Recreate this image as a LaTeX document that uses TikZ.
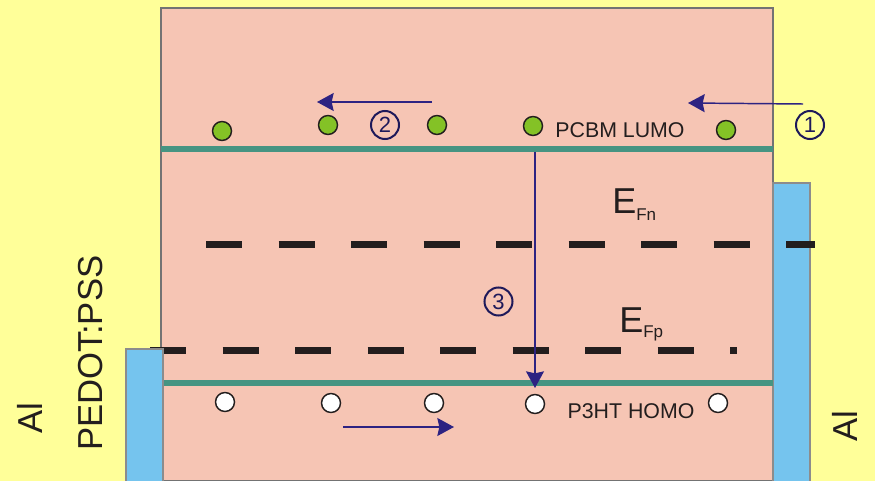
\documentclass[tikz,border=0pt]{standalone}
\usepackage{fontspec}
\setmainfont{Liberation Sans}
\usetikzlibrary{arrows.meta}
\definecolor{bgyellow}{RGB}{255,255,153}
\definecolor{cellpink}{RGB}{246,197,180}
\definecolor{levelteal}{RGB}{70,148,130}
\definecolor{contactblue}{RGB}{117,196,238}
\definecolor{flownavy}{RGB}{45,35,130}
\definecolor{numnavy}{RGB}{30,25,90}
\definecolor{elecgreen}{RGB}{132,194,38}
\definecolor{inkdark}{RGB}{35,30,30}
\begin{document}
\begin{tikzpicture}[x=0.75pt,y=-0.75pt,
  level/.style={levelteal,line width=4.5pt},
  quasi/.style={inkdark,line width=5.25pt,dash pattern=on 27pt off 27.375pt},
  contact/.style={fill=contactblue,draw=black!45,line width=0.8pt},
  elec/.style={circle,fill=elecgreen,draw=inkdark,line width=1.1pt,minimum size=14.25pt,inner sep=0pt},
  hole/.style={circle,fill=white,draw=inkdark,line width=1.1pt,minimum size=14.25pt,inner sep=0pt},
  flow/.style={flownavy,line width=1.1pt,-{Stealth[length=12.5pt,width=13.5pt,inset=1.5pt]}},
  stepnum/.style={circle,draw=numnavy,text=numnavy,line width=1.5pt,minimum size=21pt,inner sep=0pt,font=\fontsize{16.5pt}{16.5pt}\selectfont},
  bandlabel/.style={text=inkdark,inner sep=0pt,anchor=base,font=\fontsize{16pt}{16pt}\selectfont},
  sidelabel/.style={text=inkdark,inner sep=0pt,anchor=base,rotate=90,font=\fontsize{26pt}{26pt}\selectfont}]
\fill[bgyellow] (0,0) rectangle (875,481);
\useasboundingbox (0,0) rectangle (875,481);
% cell
\filldraw[fill=cellpink,draw=black!55,line width=0.8pt] (161,8) rectangle (773,480.5);
% right contact
\filldraw[contact] (773,183) rectangle (810,482);
% band levels
\coordinate (lumoL) at (161,149); \coordinate (lumoR) at (773,149);
\coordinate (homoL) at (161,383); \coordinate (homoR) at (773,383);
\draw[level] (lumoL) -- (lumoR);
\draw[level] (homoL) -- (homoR);
% quasi Fermi levels
\coordinate (efnL) at (206,245); \coordinate (efnR) at (815,245);
\coordinate (efpL) at (150,350); \coordinate (efpR) at (737,350);
\draw[quasi] (efnL) -- (efnR);
\draw[quasi] (efpL) -- (efpR);
% left contact
\filldraw[contact] (126,349) rectangle (163,482);
% electrons
\node[elec] (e1) at (222,131) {};
\node[elec] (e2) at (328,125) {};
\node[elec] (e3) at (437,125) {};
\node[elec] (e4) at (533,126) {};
\node[elec] (e5) at (726,130) {};
% holes
\node[hole] (h1) at (225,402) {};
\node[hole] (h2) at (331,403) {};
\node[hole] (h3) at (434,403) {};
\node[hole] (h4) at (535,404) {};
\node[hole] (h5) at (718,403) {};
% labels
\node[bandlabel] (lumo) at (620,138) {PCBM LUMO};
\node[bandlabel] (homo) at (631,418) {P3HT HOMO};
\node[text=inkdark,inner sep=0pt,anchor=base west] (efn) at (612,214)
  {\fontsize{27pt}{27pt}\selectfont E\raisebox{-5pt}{\fontsize{12.75pt}{12.75pt}\selectfont Fn}};
\node[text=inkdark,inner sep=0pt,anchor=base west] (efp) at (619,332)
  {\fontsize{27pt}{27pt}\selectfont E\raisebox{-4pt}{\fontsize{12.75pt}{12.75pt}\selectfont Fp}};
\node[sidelabel] (pedot) at (102,353) {PEDOT:PSS};
\node[sidelabel] (alL) at (42,418) {Al};
\node[sidelabel] (alR) at (857,426) {Al};
% step numbers
\node[stepnum] (s1) at (810,125) {1};
\node[stepnum] (s2) at (385,125) {2};
\node[stepnum] (s3) at (498.5,301.5) {3};
% flows
\coordinate (f1s) at (803,104); \coordinate (f1e) at (688,103);
\coordinate (f2s) at (432,102); \coordinate (f2e) at (317,102);
\coordinate (f3s) at (535,152); \coordinate (f3e) at (535,388);
\coordinate (f4s) at (343,427); \coordinate (f4e) at (454,427);
\draw[flow] (f1s) -- (f1e);
\draw[flow] (f2s) -- (f2e);
\draw[flow] (f3s) -- (f3e);
\draw[flow] (f4s) -- (f4e);
\end{tikzpicture}
\end{document}
